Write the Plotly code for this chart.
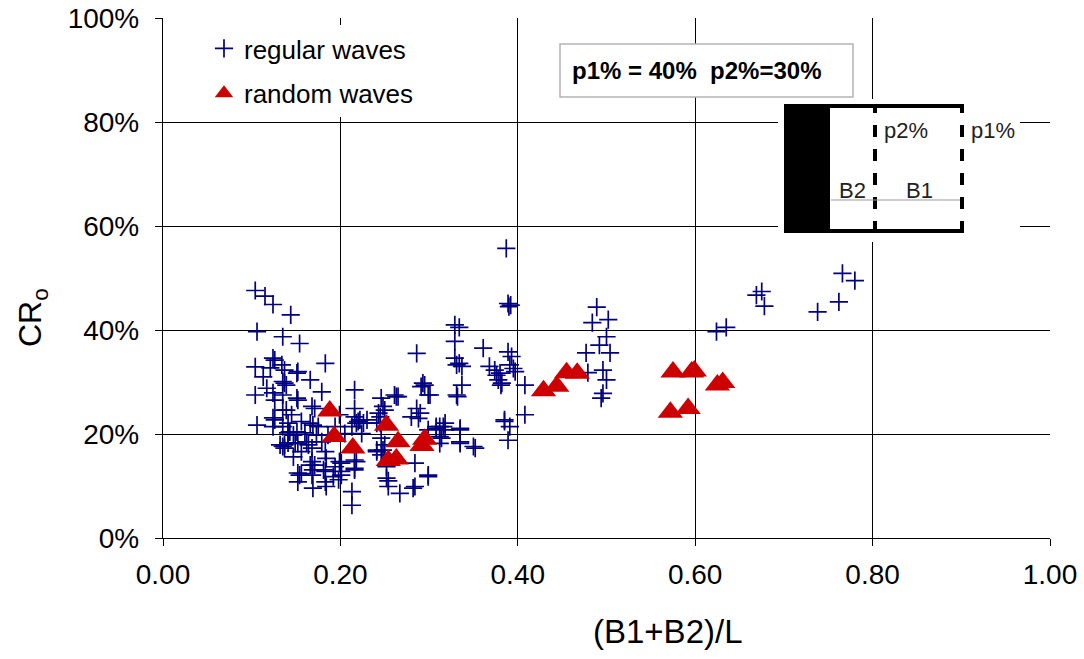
import plotly.graph_objects as go

# Regular waves: (B1+B2)/L and CRo (%)
reg_x = [0.104, 0.115, 0.124, 0.144, 0.106, 0.135, 0.154, 0.104, 0.121, 0.113,
         0.124, 0.134, 0.137, 0.135, 0.139, 0.151, 0.104, 0.117, 0.124, 0.135,
         0.151, 0.135, 0.145, 0.106, 0.124, 0.124, 0.135, 0.141, 0.147, 0.135,
         0.141, 0.152, 0.183, 0.126, 0.152, 0.166, 0.179, 0.137, 0.168, 0.156,
         0.169, 0.143, 0.160, 0.173, 0.149, 0.164, 0.179, 0.137, 0.156, 0.168,
         0.184, 0.156, 0.169, 0.181, 0.192, 0.169, 0.184, 0.198, 0.152, 0.213,
         0.213, 0.216, 0.216, 0.216, 0.218, 0.213, 0.222, 0.230, 0.205, 0.224,
         0.218, 0.216, 0.201, 0.201, 0.246, 0.248, 0.250, 0.261, 0.265, 0.245,
         0.245, 0.241, 0.246, 0.248, 0.252, 0.252, 0.254, 0.267, 0.282, 0.299,
         0.284, 0.286, 0.286, 0.290, 0.280, 0.291, 0.295, 0.299, 0.308, 0.316,
         0.314, 0.299, 0.329, 0.329, 0.329, 0.331, 0.331, 0.387, 0.389, 0.390,
         0.392, 0.334, 0.361, 0.334, 0.337, 0.389, 0.393, 0.391, 0.395, 0.397,
         0.368, 0.374, 0.376, 0.378, 0.382, 0.408, 0.337, 0.332, 0.293, 0.301,
         0.263, 0.312, 0.318, 0.335, 0.335, 0.352, 0.385, 0.391, 0.389, 0.408,
         0.312, 0.489, 0.484, 0.502, 0.500, 0.492, 0.504, 0.477, 0.496, 0.479,
         0.500, 0.496, 0.494, 0.766, 0.780, 0.669, 0.675, 0.678, 0.738, 0.762,
         0.624, 0.635, 0.126, 0.139, 0.152, 0.171, 0.126, 0.141, 0.166, 0.151,
         0.175, 0.137, 0.152, 0.162, 0.168, 0.183, 0.166, 0.171, 0.154, 0.168,
         0.183, 0.183, 0.132, 0.147, 0.186, 0.199, 0.220, 0.226, 0.194, 0.243,
         0.241, 0.288, 0.246, 0.250, 0.241, 0.199, 0.194, 0.201, 0.216, 0.216,
         0.299, 0.254, 0.284, 0.380, 0.381, 0.318, 0.308, 0.335, 0.312, 0.335,
         0.350, 0.385]
reg_y = [47.6, 46.5, 44.9, 42.9, 39.7, 38.7, 37.4, 32.9, 32.7, 31.0,
         34.6, 33.3, 32.3, 30.1, 29.4, 31.7, 27.5, 28.8, 27.9, 27.5,
         26.9, 24.6, 23.7, 21.7, 23.1, 21.4, 21.4, 20.2, 19.8, 17.6,
         18.3, 12.5, 33.6, 34.2, 32.0, 30.4, 28.1, 29.8, 25.3, 22.4,
         21.7, 20.4, 20.2, 19.8, 18.2, 17.9, 18.5, 17.3, 16.6, 14.7,
         15.3, 12.4, 13.1, 13.1, 11.8, 9.6, 9.9, 11.2, 10.8, 8.9,
         6.3, 28.5, 24.9, 23.3, 22.1, 21.4, 22.7, 22.7, 20.1, 20.1,
         14.7, 13.1, 14.4, 12.8, 26.9, 25.3, 24.6, 27.5, 27.2, 23.3,
         22.1, 16.6, 16.0, 16.9, 13.7, 11.5, 9.9, 8.6, 9.6, 11.8,
         14.4, 35.5, 24.9, 24.0, 23.3, 29.1, 29.4, 27.5, 21.4, 21.4,
         19.2, 20.8, 41.0, 37.8, 34.6, 33.3, 27.5, 55.7, 45.1, 44.5,
         44.8, 40.5, 36.5, 33.6, 33.0, 35.8, 34.9, 33.3, 32.6, 32.0,
         33.0, 32.3, 31.3, 30.4, 29.8, 29.4, 29.4, 27.2, 29.8, 27.5,
         27.2, 21.4, 20.8, 20.8, 18.5, 17.3, 22.4, 21.4, 18.8, 23.7,
         19.5, 44.4, 41.4, 42.0, 38.7, 37.1, 35.6, 35.6, 32.3, 31.8,
         30.4, 27.8, 26.9, 50.9, 49.5, 46.7, 47.4, 44.6, 43.5, 45.4,
         39.7, 40.5, 26.5, 24.6, 26.5, 24.9, 22.7, 22.1, 22.1, 20.4,
         21.4, 17.9, 18.2, 18.5, 17.3, 16.6, 14.0, 14.0, 12.1, 12.1,
         12.8, 10.8, 17.9, 15.6, 19.8, 23.7, 22.4, 22.1, 21.4, 24.0,
         22.1, 23.0, 19.2, 17.9, 16.9, 14.7, 13.7, 12.1, 15.0, 13.4,
         12.1, 11.0, 9.9, 31.7, 29.4, 22.1, 21.1, 21.1, 18.2, 18.2,
         17.6, 22.7]

# Random waves
rnd_x = [0.188, 0.193, 0.214, 0.252, 0.265, 0.254, 0.263, 0.292, 0.295, 0.429,
         0.444, 0.455, 0.467, 0.575, 0.596, 0.599, 0.572, 0.592, 0.625, 0.631]
rnd_y = [24.4, 19.5, 17.3, 21.7, 18.5, 14.9, 15.2, 17.8, 19.0, 28.3,
         29.2, 31.8, 31.7, 31.9, 31.9, 32.1, 24.2, 24.9, 29.4, 29.9]

x_ticks = [0.0, 0.2, 0.4, 0.6, 0.8, 1.0]
x_tick_labels = ["0.00", "0.20", "0.40", "0.60", "0.80", "1.00"]
y_ticks = [0, 20, 40, 60, 80, 100]
y_tick_labels = ["0%", "20%", "40%", "60%", "80%", "100%"]

FONT = "Liberation Sans, Arial, sans-serif"

fig = go.Figure()
fig.add_trace(go.Scatter(
    x=reg_x, y=reg_y, mode="markers", name="regular waves", legendgroup="a",
    marker=dict(symbol="cross-thin", size=13, color="#000080",
                line=dict(color="#000080", width=1.7))))
fig.add_trace(go.Scatter(
    x=rnd_x, y=rnd_y, mode="markers", name="random waves", legendgroup="b",
    marker=dict(symbol="triangle-up", size=22, color="#CC0000",
                line=dict(width=0))))

W, H = 1084, 659
L, R, T, B = 163, 34, 18, 121
pw, ph = W - L - R, H - T - B


def px(xp):
    return (xp - L) / pw


def py(yp):
    return (H - B - yp) / ph


shapes = []
# parameter text box
shapes.append(dict(type="rect", xref="paper", yref="paper",
                   x0=px(560), x1=px(853), y0=py(97), y1=py(44),
                   fillcolor="white", line=dict(color="#b4b4b4", width=1.5)))
# inset diagram background
shapes.append(dict(type="rect", xref="paper", yref="paper",
                   x0=px(778), x1=px(1020), y0=py(242), y1=py(99),
                   fillcolor="white", line=dict(width=0)))
# black wall
shapes.append(dict(type="rect", xref="paper", yref="paper",
                   x0=px(784), x1=px(830), y0=py(233), y1=py(104),
                   fillcolor="black", line=dict(width=0)))
# top and bottom lines
shapes.append(dict(type="line", xref="paper", yref="paper",
                   x0=px(784), x1=px(964), y0=py(106), y1=py(106),
                   line=dict(color="black", width=4)))
shapes.append(dict(type="line", xref="paper", yref="paper",
                   x0=px(784), x1=px(964), y0=py(231), y1=py(231),
                   line=dict(color="black", width=4)))
# dashed lines
for xx in (875, 962):
    shapes.append(dict(type="line", xref="paper", yref="paper",
                       x0=px(xx), x1=px(xx), y0=py(233), y1=py(104),
                       line=dict(color="black", width=4, dash="dash")))
# dimension line
shapes.append(dict(type="line", xref="paper", yref="paper",
                   x0=px(831), x1=px(960), y0=py(200), y1=py(200),
                   line=dict(color="#999999", width=1)))


def note(text, x, y, size, color="#222222", angle=0):
    return dict(text=text, xref="paper", yref="paper", x=px(x), y=py(y),
                xanchor="center", yanchor="middle", showarrow=False,
                textangle=angle,
                font=dict(family=FONT, size=size, color=color))


annotations = [
    note("<b>p1% = 40%  p2%=30%</b>", 696, 71, 24, "black"),
    note("p2%", 906, 130, 22),
    note("p1%", 993, 130, 22),
    note("B2", 852, 190, 22),
    note("B1", 919, 190, 22),
    note("(B1+B2)/L", 668, 631, 33, "black"),
    note("CR<sub>o</sub>", 32, 318, 32, "black", -90),
]

fig.update_layout(
    width=W, height=H,
    margin=dict(l=L, r=R, t=T, b=B, autoexpand=False),
    paper_bgcolor="white", plot_bgcolor="white",
    font=dict(family=FONT, size=28, color="black"),
    showlegend=True,
    legend=dict(x=px(204), y=py(25), xanchor="left", yanchor="top",
                bgcolor="white", borderwidth=0,
                font=dict(family=FONT, size=26, color="black"),
                tracegroupgap=8, itemwidth=30),
    shapes=shapes,
    annotations=annotations,
    xaxis=dict(range=[0, 1], tickvals=x_ticks, ticktext=x_tick_labels,
               showgrid=True, gridcolor="black", gridwidth=1.3,
               showline=True, linecolor="black", linewidth=1.3,
               ticks="outside", ticklen=7, tickcolor="black",
               zeroline=False, tickfont=dict(size=28), automargin=False,
               ticklabelstandoff=4),
    yaxis=dict(range=[0, 100], tickvals=y_ticks, ticktext=y_tick_labels,
               showgrid=True, gridcolor="black", gridwidth=1.3,
               showline=True, linecolor="black", linewidth=1.3,
               ticks="outside", ticklen=7, tickcolor="black",
               zeroline=False, tickfont=dict(size=28), automargin=False,
               ticklabelstandoff=10),
)

fig.write_html("out.html")
